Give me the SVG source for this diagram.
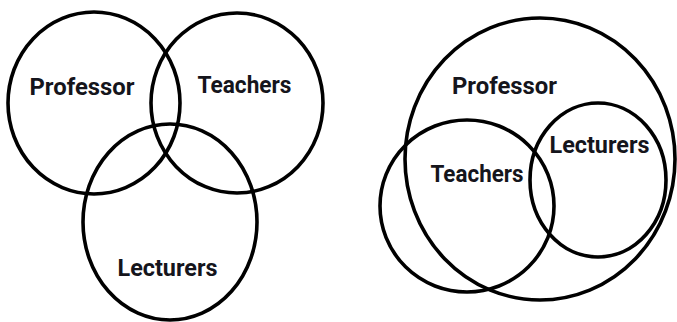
<svg xmlns="http://www.w3.org/2000/svg" width="677" height="322" viewBox="0 0 677 322">
<style>
.c{fill:none;stroke:#000;stroke-width:3.6}
.t{font-family:Roboto,"Liberation Sans",Arial,sans-serif;font-weight:700;font-size:23.5px;fill:#15151c;text-anchor:middle}
</style>
<rect width="677" height="322" fill="#fff"/>
<g id="left-professor"><ellipse class="c" cx="94" cy="103" rx="86" ry="91"/><text class="t" x="82" y="95" textLength="105" lengthAdjust="spacingAndGlyphs">Professor</text></g>
<g id="left-teachers"><ellipse class="c" cx="237" cy="103" rx="86" ry="90"/><text class="t" x="244.5" y="93" textLength="94" lengthAdjust="spacingAndGlyphs">Teachers</text></g>
<g id="left-lecturers"><ellipse class="c" cx="170" cy="222" rx="87" ry="98"/><text class="t" x="167.5" y="276" textLength="100" lengthAdjust="spacingAndGlyphs">Lecturers</text></g>
<g id="right-professor"><ellipse class="c" cx="540" cy="159" rx="135" ry="141"/><text class="t" x="504.5" y="94" textLength="105" lengthAdjust="spacingAndGlyphs">Professor</text></g>
<g id="right-teachers"><ellipse class="c" cx="467" cy="206" rx="87" ry="86"/><text class="t" x="477" y="182" textLength="93" lengthAdjust="spacingAndGlyphs">Teachers</text></g>
<g id="right-lecturers"><ellipse class="c" cx="598" cy="180" rx="68" ry="77"/><text class="t" x="599.5" y="153" textLength="100" lengthAdjust="spacingAndGlyphs">Lecturers</text></g>
<g id="connectors"/>
</svg>
